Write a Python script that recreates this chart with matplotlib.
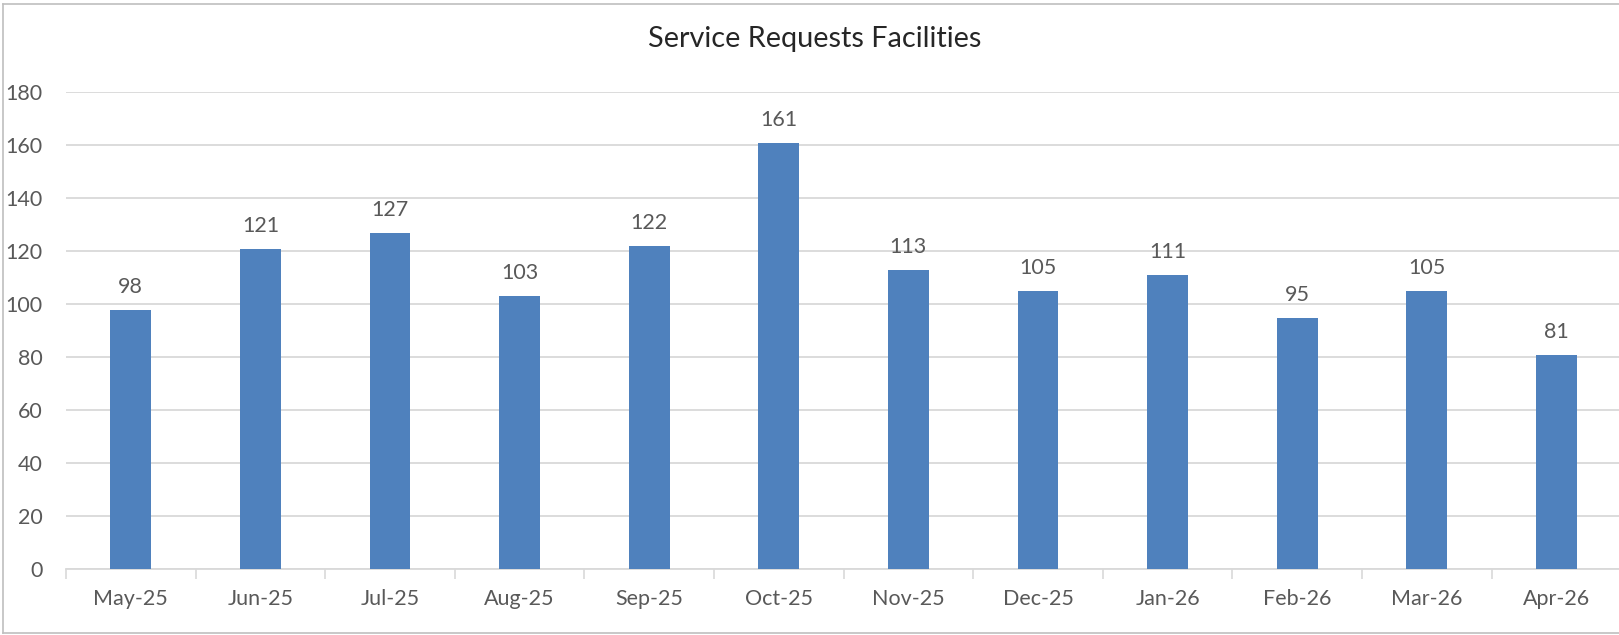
import matplotlib
matplotlib.use("Agg")
import matplotlib.pyplot as plt
from matplotlib.lines import Line2D

months = ["May-25", "Jun-25", "Jul-25", "Aug-25", "Sep-25", "Oct-25",
          "Nov-25", "Dec-25", "Jan-26", "Feb-26", "Mar-26", "Apr-26"]
requests = [98, 121, 127, 103, 122, 161, 113, 105, 111, 95, 105, 81]
y_ticks = [0, 20, 40, 60, 80, 100, 120, 140, 160, 180]

W, H = 1619, 635
plt.rcParams['font.family'] = ['Lato', 'DejaVu Sans']
fig = plt.figure(figsize=(W / 100, H / 100), dpi=100)

left, right = 66, 66 + 12 * 129.6
bottom, top = 569.3, 92.3
ax = fig.add_axes([left / W, (H - bottom) / H, (right - left) / W, (bottom - top) / H])

text_color = "#595959"
fs = 15.5
x = list(range(len(months)))
ax.bar(x, requests, width=0.316, color="#4F81BD", zorder=3)
ax.set_xlim(-0.5, len(months) - 0.5)
ax.set_ylim(0, 180)
ax.set_yticks(y_ticks)
ax.set_yticklabels([str(v) for v in y_ticks], fontsize=fs, color=text_color)
ax.tick_params(axis='y', length=0, pad=17)
ax.set_xticks(x)
ax.set_xticklabels(months, fontsize=fs, color=text_color)
ax.tick_params(axis='x', length=0, pad=14)
# boundary tick marks
ax.set_xticks([i - 0.5 for i in range(len(months) + 1)], minor=True)
ax.tick_params(axis='x', which='minor', length=7, width=1.2, color="#D9D9D9")
ax.grid(axis='y', color="#D9D9D9", linewidth=1.3, zorder=0)
for s in ["top", "right", "left"]:
    ax.spines[s].set_visible(False)
ax.spines["bottom"].set_color("#D9D9D9")
ax.spines["bottom"].set_linewidth(1.3)

for xi, v in zip(x, requests):
    ax.annotate(str(v), (xi, v), xytext=(0, 12.2), textcoords="offset points",
                ha="center", va="baseline", fontsize=fs, color=text_color)

fig.text(815 / W, 1 - 47 / H, "Service Requests Facilities", ha="center", va="baseline",
         fontsize=20.8, color="#262626")

# chart border
bc = "#BFBFBF"
fig.add_artist(Line2D([3 / W, 3 / W], [2 / H, 1 - 4 / H], color=bc, lw=1.2, transform=fig.transFigure))
fig.add_artist(Line2D([3 / W, 1], [1 - 4 / H, 1 - 4 / H], color=bc, lw=1.2, transform=fig.transFigure))
fig.add_artist(Line2D([3 / W, 1], [2 / H, 2 / H], color=bc, lw=1.2, transform=fig.transFigure))

fig.savefig("out.png", dpi=100)
